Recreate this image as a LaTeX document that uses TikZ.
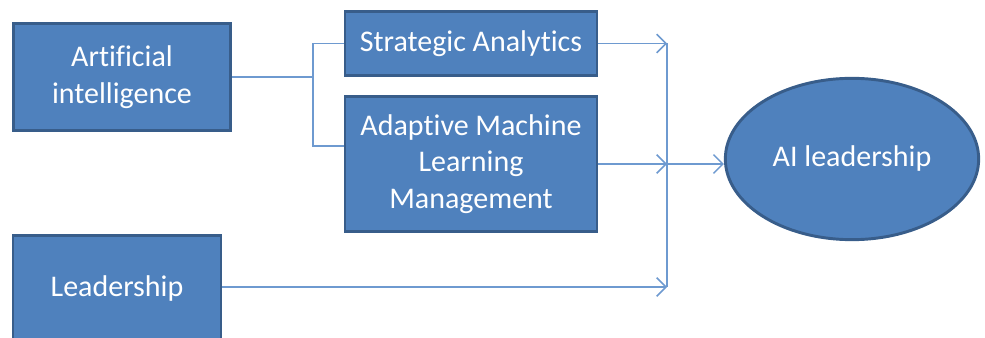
\documentclass[tikz,border=0pt]{standalone}
\usepackage{fontspec}
\setmainfont[Ligatures=NoCommon]{Carlito}
\usetikzlibrary{positioning, arrows.meta, shapes.geometric}
\definecolor{BoxFill}{HTML}{4F81BD}
\definecolor{BoxLine}{HTML}{385D8A}
\definecolor{Wire}{HTML}{6E9AD0}
\tikzset{
    bluebox/.style={rectangle, fill=BoxFill, draw=BoxLine, line width=2.2pt, text=white,
        align=center, font=\fontsize{22.5}{27.5}\selectfont, inner sep=0pt},
    blueoval/.style={ellipse, fill=BoxFill, draw=BoxLine, line width=2.2pt, text=white,
        align=center, font=\fontsize{22.5}{27.5}\selectfont, inner sep=0pt},
    wire/.style={draw=Wire, line width=1.1pt},
    arrow/.style={wire, -{Straight Barb[length=7pt, width=14pt, line width=1.1pt]}},
}

\begin{document}
\begin{tikzpicture}[x=0.75pt, y=-0.75pt]
    \useasboundingbox (0,0) rectangle (985,338);

    % inputs on the left
    \node[bluebox, minimum width=163pt, minimum height=80pt] (ai) at (122,77)
        {Artificial\\intelligence};
    \node[bluebox, minimum width=156pt, minimum height=80pt] (lead) at (117,289)
        {Leadership};

    % the two middle blocks
    \node[bluebox, minimum width=189pt, minimum height=48pt] (strat) at (471,43.5)
        {Strategic Analytics};
    \node[bluebox, minimum width=189pt, minimum height=101pt] (aml) at (471,164)
        {Adaptive Machine\\Learning\\Management};

    % the outcome
    \node[blueoval, minimum width=190pt, minimum height=121pt] (ail) at (852,159)
        {AI leadership};

    % junction points of the wires
    \coordinate (split) at (313,77);
    \coordinate (low) at (313,146);
    \coordinate (mA) at (667,43.5);
    \coordinate (mB) at (667,164);
    \coordinate (mC) at (667,287);

    % AI branches into the two middle blocks
    \draw[wire] (ai.east) -- (split);
    \draw[wire] (strat.west) -| (split) -- (low) -- (aml.west |- low);

    % everything collects on the vertical bar
    \draw[arrow] (strat.east) -- (mA);
    \draw[arrow] (aml.east) -- (mB);
    \draw[arrow] (lead.east |- mC) -- (mC);
    \draw[wire] (mA) -- (mC);

    % bar into the oval
    \draw[arrow] (mB) -- (ail.west |- mB);
\end{tikzpicture}
\end{document}
